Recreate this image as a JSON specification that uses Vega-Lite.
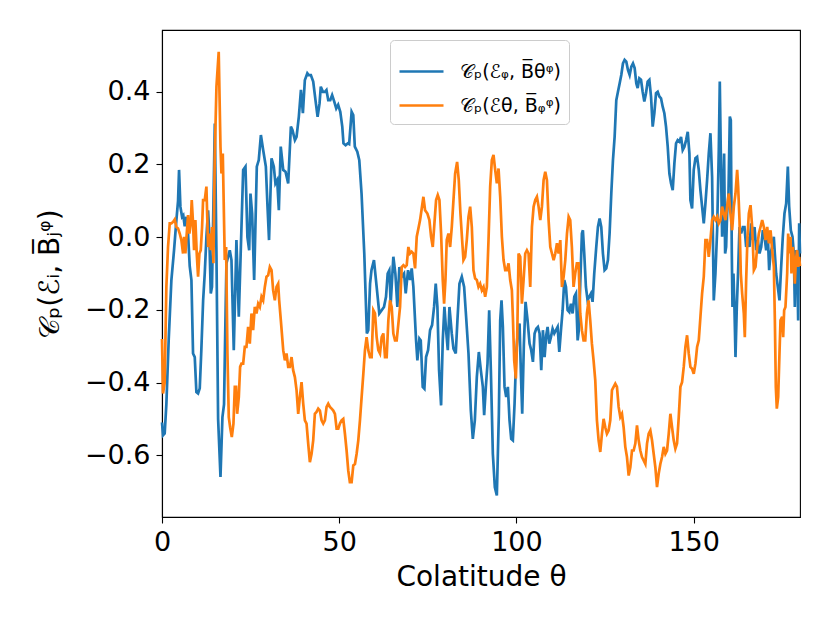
{
  "$schema": "https://vega.github.io/schema/vega-lite/v6.json",
  "width": 638,
  "height": 487,
  "autosize": {"type": "none"},
  "padding": {"left": 162, "top": 30, "right": 30, "bottom": 106},
  "background": "white",
  "datasets": {
    "blue": [
      {"t":0,"v":-0.51},{"t":0.29,"v":-0.545},{"t":0.76,"v":-0.54},{"t":1.23,"v":-0.46},{"t":1.9,"v":-0.28},{"t":2.65,"v":-0.118},{"t":3.4,"v":-0.036},{"t":4.06,"v":0.047},{"t":4.53,"v":0.1},{"t":4.81,"v":0.185},{"t":5.19,"v":0.084},{"t":5.66,"v":0.056},{"t":6.0,"v":0.06},{"t":6.41,"v":0.03},{"t":6.9,"v":0.056},{"t":7.35,"v":0.01},{"t":7.82,"v":-0.08},{"t":8.3,"v":-0.118},{"t":8.76,"v":-0.32},{"t":9.24,"v":-0.33},{"t":9.7,"v":-0.426},{"t":10.18,"v":-0.43},{"t":10.65,"v":-0.416},{"t":11.1,"v":-0.31},{"t":11.6,"v":-0.175},{"t":12.06,"v":-0.1},{"t":12.53,"v":0.0},{"t":13.0,"v":0.074},{"t":13.3,"v":0.019},{"t":13.76,"v":-0.155},{"t":14.1,"v":-0.137},{"t":14.4,"v":0.028},{"t":14.9,"v":0.313},{"t":15.36,"v":-0.045},{"t":15.83,"v":-0.5},{"t":16.5,"v":-0.66},{"t":17.05,"v":-0.495},{"t":17.5,"v":-0.46},{"t":17.8,"v":-0.284},{"t":18.18,"v":-0.072},{"t":19.12,"v":-0.036},{"t":19.6,"v":-0.063},{"t":20.25,"v":-0.311},{"t":21.0,"v":-0.008},{"t":21.67,"v":-0.219},{"t":22.9,"v":0.185},{"t":23.55,"v":0.194},{"t":24.1,"v":0.0},{"t":24.6,"v":-0.036},{"t":24.96,"v":0.12},{"t":25.43,"v":0.065},{"t":26.0,"v":-0.118},{"t":26.75,"v":0.194},{"t":27.3,"v":0.212},{"t":27.9,"v":0.281},{"t":28.54,"v":0.24},{"t":29.3,"v":0.194},{"t":29.77,"v":0.084},{"t":30.2,"v":-0.008},{"t":30.9,"v":0.217},{"t":31.55,"v":0.194},{"t":32.0,"v":0.148},{"t":32.5,"v":0.157},{"t":32.97,"v":0.074},{"t":33.5,"v":0.249},{"t":34.2,"v":0.185},{"t":34.85,"v":0.18},{"t":35.6,"v":0.148},{"t":36.36,"v":0.304},{"t":36.8,"v":0.295},{"t":37.5,"v":0.267},{"t":37.96,"v":0.276},{"t":38.6,"v":0.331},{"t":39.2,"v":0.405},{"t":39.75,"v":0.341},{"t":40.3,"v":0.432},{"t":41.0,"v":0.451},{"t":41.4,"v":0.446},{"t":42.0,"v":0.446},{"t":42.66,"v":0.428},{"t":43.3,"v":0.377},{"t":43.9,"v":0.331},{"t":44.45,"v":0.368},{"t":44.8,"v":0.414},{"t":45.4,"v":0.4},{"t":45.96,"v":0.4},{"t":46.4,"v":0.405},{"t":46.9,"v":0.377},{"t":47.47,"v":0.377},{"t":48.0,"v":0.391},{"t":48.6,"v":0.373},{"t":49.16,"v":0.354},{"t":49.7,"v":0.364},{"t":50.3,"v":0.345},{"t":50.86,"v":0.304},{"t":51.2,"v":0.258},{"t":51.8,"v":0.253},{"t":52.4,"v":0.258},{"t":52.8,"v":0.256},{"t":53.5,"v":0.345},{"t":53.96,"v":0.336},{"t":54.4,"v":0.249},{"t":55.1,"v":0.235},{"t":55.66,"v":0.212},{"t":56.3,"v":0.12},{"t":57.07,"v":-0.045},{"t":57.8,"v":-0.265},{"t":58.2,"v":-0.256},{"t":58.7,"v":-0.128},{"t":59.1,"v":-0.091},{"t":59.8,"v":-0.063},
      {"t":60.56,"v":-0.137},{"t":61.31,"v":-0.21},{"t":61.98,"v":-0.201},{"t":62.63,"v":-0.192},{"t":63.2,"v":-0.164},{"t":63.67,"v":-0.1},{"t":64.14,"v":-0.091},{"t":64.52,"v":-0.183},{"t":65.27,"v":-0.054},{"t":65.84,"v":-0.1},{"t":66.4,"v":-0.192},{"t":66.97,"v":-0.082},{"t":67.63,"v":-0.109},{"t":68.29,"v":-0.1},{"t":68.76,"v":-0.155},{"t":69.42,"v":-0.091},{"t":69.98,"v":-0.118},{"t":70.45,"v":-0.086},{"t":70.92,"v":-0.137},{"t":71.68,"v":-0.284},{"t":72.05,"v":-0.339},{"t":72.62,"v":-0.279},{"t":73.0,"v":-0.284},{"t":73.56,"v":-0.412},{"t":74.03,"v":-0.417},{"t":74.5,"v":-0.33},{"t":75.07,"v":-0.311},{"t":75.63,"v":-0.256},{"t":76.2,"v":-0.242},{"t":76.76,"v":-0.192},{"t":77.23,"v":-0.128},{"t":77.7,"v":-0.192},{"t":78.17,"v":-0.366},{"t":78.74,"v":-0.463},{"t":79.21,"v":-0.284},{"t":79.68,"v":-0.192},{"t":80.15,"v":-0.256},{"t":80.63,"v":-0.311},{"t":81.1,"v":-0.192},{"t":81.75,"v":-0.265},{"t":82.23,"v":-0.307},{"t":82.88,"v":-0.32},{"t":83.35,"v":-0.229},{"t":83.92,"v":-0.128},{"t":84.58,"v":-0.109},{"t":85.24,"v":-0.137},{"t":85.8,"v":-0.219},{"t":86.47,"v":-0.32},{"t":87.13,"v":-0.477},{"t":87.69,"v":-0.555},{"t":88.26,"v":-0.504},{"t":88.82,"v":-0.385},{"t":89.39,"v":-0.316},{"t":89.95,"v":-0.366},{"t":90.52,"v":-0.412},{"t":90.89,"v":-0.49},{"t":91.37,"v":-0.412},{"t":91.84,"v":-0.348},{"t":92.31,"v":-0.201},{"t":92.78,"v":-0.366},{"t":93.34,"v":-0.596},{"t":93.91,"v":-0.688},{"t":94.47,"v":-0.711},{"t":95.04,"v":-0.486},{"t":95.42,"v":-0.229},{"t":95.79,"v":-0.174},{"t":96.17,"v":-0.247},{"t":96.64,"v":-0.412},{"t":97.11,"v":-0.44},{"t":97.58,"v":-0.412},{"t":98.05,"v":-0.504},{"t":98.52,"v":-0.555},{"t":98.99,"v":-0.559},{"t":99.47,"v":-0.458},{"t":99.94,"v":-0.32},{"t":100.41,"v":-0.256},{"t":100.88,"v":-0.238},{"t":101.26,"v":-0.376},{"t":101.63,"v":-0.486},{"t":102.1,"v":-0.293},{"t":102.57,"v":-0.178},{"t":103.14,"v":-0.229},{"t":103.7,"v":-0.293},{"t":104.17,"v":-0.311},{"t":104.65,"v":-0.343},{"t":105.12,"v":-0.265},{"t":105.59,"v":-0.252},{"t":106.06,"v":-0.247},{"t":106.53,"v":-0.265},{"t":107.0,"v":-0.366},{"t":107.47,"v":-0.256},{"t":107.94,"v":-0.33},{"t":108.41,"v":-0.27},{"t":108.79,"v":-0.247},{"t":109.26,"v":-0.293},{"t":109.73,"v":-0.275},{"t":110.2,"v":-0.252},{"t":110.68,"v":-0.265},{"t":111.15,"v":-0.256},{"t":111.62,"v":-0.247},{"t":112.09,"v":-0.316},{"t":112.56,"v":-0.256},{"t":113.03,"v":-0.201},{"t":113.5,"v":-0.118},{"t":113.97,"v":-0.137},{"t":114.44,"v":-0.201},{"t":114.91,"v":-0.206},{"t":115.38,"v":-0.183},{"t":115.85,"v":-0.21},{"t":116.33,"v":-0.164},{"t":116.8,"v":-0.155},{"t":117.27,"v":-0.284},{"t":117.6,"v":-0.256},
      {"t":118.0,"v":-0.128},{"t":118.47,"v":0.01},{"t":118.75,"v":0.019},{"t":119.13,"v":-0.045},{"t":119.6,"v":-0.137},{"t":120.07,"v":-0.174},{"t":120.54,"v":-0.164},{"t":121.01,"v":-0.155},{"t":121.48,"v":-0.178},{"t":121.95,"v":-0.1},{"t":122.52,"v":-0.027},{"t":122.99,"v":0.028},{"t":123.46,"v":0.051},{"t":123.93,"v":0.028},{"t":124.4,"v":-0.045},{"t":124.87,"v":-0.091},{"t":125.34,"v":-0.086},{"t":125.81,"v":-0.063},{"t":126.28,"v":0.01},{"t":126.76,"v":0.12},{"t":127.23,"v":0.212},{"t":127.7,"v":0.276},{"t":128.17,"v":0.377},{"t":128.64,"v":0.4},{"t":129.11,"v":0.423},{"t":129.58,"v":0.446},{"t":130.05,"v":0.478},{"t":130.52,"v":0.488},{"t":130.99,"v":0.483},{"t":131.46,"v":0.46},{"t":131.94,"v":0.446},{"t":132.41,"v":0.469},{"t":132.88,"v":0.478},{"t":133.35,"v":0.465},{"t":133.82,"v":0.423},{"t":134.2,"v":0.41},{"t":134.67,"v":0.437},{"t":135.14,"v":0.433},{"t":135.61,"v":0.4},{"t":136.08,"v":0.373},{"t":136.55,"v":0.396},{"t":137.02,"v":0.428},{"t":137.5,"v":0.433},{"t":137.97,"v":0.387},{"t":138.44,"v":0.304},{"t":138.91,"v":0.341},{"t":139.38,"v":0.396},{"t":139.85,"v":0.4},{"t":140.32,"v":0.387},{"t":140.79,"v":0.382},{"t":141.26,"v":0.359},{"t":141.73,"v":0.341},{"t":142.2,"v":0.304},{"t":142.68,"v":0.249},{"t":143.15,"v":0.175},{"t":143.62,"v":0.148},{"t":144.09,"v":0.129},{"t":144.56,"v":0.203},{"t":145.03,"v":0.258},{"t":145.5,"v":0.267},{"t":145.97,"v":0.263},{"t":146.44,"v":0.276},{"t":146.91,"v":0.24},{"t":147.39,"v":0.249},{"t":147.86,"v":0.267},{"t":148.33,"v":0.29},{"t":148.8,"v":0.23},{"t":149.08,"v":0.102},{"t":149.55,"v":0.079},{"t":150.02,"v":0.185},{"t":150.5,"v":0.217},{"t":150.97,"v":0.221},{"t":151.44,"v":0.185},{"t":151.91,"v":0.129},{"t":152.38,"v":0.084},{"t":152.85,"v":0.038},{"t":153.32,"v":0.093},{"t":153.79,"v":0.157},{"t":154.26,"v":0.23},{"t":154.73,"v":0.286},{"t":155.2,"v":0.166},{"t":155.67,"v":-0.174},{"t":156.14,"v":-0.1},{"t":156.62,"v":0.019},{"t":157.09,"v":0.24},{"t":157.37,"v":0.428},{"t":157.75,"v":0.166},{"t":158.03,"v":0.001},{"t":158.31,"v":0.111},{"t":158.59,"v":0.23},{"t":158.88,"v":-0.045},{"t":159.16,"v":-0.027},{"t":159.44,"v":0.065},{"t":159.82,"v":0.12},{"t":160.2,"v":0.332},{"t":160.48,"v":0.322},{"t":160.76,"v":-0.045},{"t":160.95,"v":-0.192},{"t":161.23,"v":-0.1},{"t":161.5,"v":-0.192},{"t":161.8,"v":-0.33},{"t":162.17,"v":-0.192},{"t":162.55,"v":-0.091},{"t":162.93,"v":0.028},{"t":163.4,"v":0.01},{"t":163.87,"v":0.028},{"t":164.34,"v":0.028},{"t":164.81,"v":-0.027},{"t":165.28,"v":0.001},{"t":165.75,"v":-0.027},{"t":166.22,"v":0.038},{"t":166.7,"v":-0.008},{"t":167.17,"v":0.028},{"t":167.64,"v":-0.036},{"t":168.11,"v":-0.008},{"t":168.58,"v":-0.045},{"t":169.05,"v":-0.027},{"t":169.52,"v":0.019},{"t":169.99,"v":0.001},{"t":170.46,"v":-0.036},{"t":170.93,"v":0.001},{"t":171.3,"v":-0.091},{"t":171.67,"v":-0.045},{"t":172.14,"v":-0.027},{"t":172.61,"v":0.001},{"t":172.9,"v":-0.045},{"t":173.27,"v":-0.1},{"t":173.74,"v":-0.137},{"t":174.21,"v":-0.174},{"t":174.68,"v":-0.082},{"t":175.15,"v":0.001},{"t":175.62,"v":0.065},{"t":176.1,"v":0.093},{"t":176.57,"v":0.194},{"t":176.94,"v":0.084},{"t":177.41,"v":0.019},{"t":177.88,"v":0.001},{"t":178.26,"v":-0.045},{"t":178.54,"v":-0.192},{"t":178.83,"v":-0.036},{"t":179.2,"v":-0.045},{"t":179.48,"v":-0.229},{"t":179.77,"v":0.038},{"t":180,"v":-0.045}
    ],
    "orange": [
      {"t":0,"v":-0.28},{"t":0.29,"v":-0.43},{"t":0.76,"v":-0.4},{"t":1.23,"v":-0.137},{"t":1.7,"v":-0.027},{"t":2.18,"v":0.038},{"t":2.65,"v":0.038},{"t":3.12,"v":0.042},{"t":3.59,"v":0.049},{"t":4.06,"v":0.028},{"t":4.53,"v":0.024},{"t":5.0,"v":0.01},{"t":5.47,"v":-0.008},{"t":5.94,"v":-0.045},{"t":6.22,"v":0.001},{"t":6.6,"v":-0.045},{"t":6.98,"v":0.01},{"t":7.35,"v":0.061},{"t":7.73,"v":0.01},{"t":8.11,"v":0.038},{"t":8.39,"v":0.102},{"t":8.76,"v":0.038},{"t":9.05,"v":-0.036},{"t":9.42,"v":0.047},{"t":9.8,"v":-0.045},{"t":10.18,"v":-0.109},{"t":10.56,"v":-0.045},{"t":10.93,"v":-0.036},{"t":11.31,"v":0.028},{"t":11.59,"v":0.102},{"t":12.06,"v":0.102},{"t":12.53,"v":0.139},{"t":13.0,"v":-0.027},{"t":13.47,"v":0.01},{"t":13.76,"v":-0.036},{"t":14.13,"v":0.028},{"t":14.51,"v":-0.072},{"t":14.88,"v":0.221},{"t":15.36,"v":0.414},{"t":16.0,"v":0.51},{"t":16.5,"v":0.249},{"t":16.77,"v":0.175},{"t":17.15,"v":0.23},{"t":17.71,"v":-0.063},{"t":18.09,"v":-0.027},{"t":18.46,"v":-0.32},{"t":18.84,"v":-0.495},{"t":19.22,"v":-0.523},{"t":19.69,"v":-0.55},{"t":20.16,"v":-0.513},{"t":20.54,"v":-0.412},{"t":20.91,"v":-0.412},{"t":21.2,"v":-0.486},{"t":21.67,"v":-0.44},{"t":22.04,"v":-0.357},{"t":22.42,"v":-0.348},{"t":22.9,"v":-0.348},{"t":23.36,"v":-0.302},{"t":23.83,"v":-0.302},{"t":24.3,"v":-0.247},{"t":24.77,"v":-0.293},{"t":25.24,"v":-0.21},{"t":25.71,"v":-0.256},{"t":26.18,"v":-0.192},{"t":26.66,"v":-0.21},{"t":27.13,"v":-0.183},{"t":27.6,"v":-0.192},{"t":28.07,"v":-0.164},{"t":28.54,"v":-0.174},{"t":29.01,"v":-0.137},{"t":29.48,"v":-0.109},{"t":29.95,"v":-0.105},{"t":30.42,"v":-0.082},{"t":30.9,"v":-0.091},{"t":31.36,"v":-0.146},{"t":31.84,"v":-0.174},{"t":32.31,"v":-0.137},{"t":32.78,"v":-0.128},{"t":33.06,"v":-0.174},{"t":33.53,"v":-0.229},{"t":34.2,"v":-0.311},{"t":34.66,"v":-0.339},{"t":35.13,"v":-0.32},{"t":35.6,"v":-0.357},{"t":36.07,"v":-0.357},{"t":36.55,"v":-0.33},{"t":37.0,"v":-0.366},{"t":37.49,"v":-0.385},{"t":37.96,"v":-0.421},{"t":38.43,"v":-0.486},{"t":38.9,"v":-0.44},{"t":39.37,"v":-0.399},{"t":39.84,"v":-0.458},{"t":40.31,"v":-0.504},{"t":40.78,"v":-0.513},{"t":41.25,"v":-0.568},{"t":41.72,"v":-0.619},{"t":42.2,"v":-0.596},{"t":42.66,"v":-0.559},{"t":43.13,"v":-0.486},{"t":43.6,"v":-0.481},{"t":44.08,"v":-0.472},{"t":44.55,"v":-0.477},{"t":45.02,"v":-0.504},{"t":45.49,"v":-0.513},{"t":45.96,"v":-0.504},{"t":46.43,"v":-0.467},{"t":46.9,"v":-0.458},{"t":47.37,"v":-0.467},{"t":47.85,"v":-0.472},{"t":48.32,"v":-0.477},{"t":48.79,"v":-0.486},{"t":49.26,"v":-0.527},{"t":49.73,"v":-0.527},{"t":50.2,"v":-0.513},{"t":50.67,"v":-0.504},{"t":51.14,"v":-0.5},{"t":51.61,"v":-0.541},{"t":52.08,"v":-0.587},{"t":52.55,"v":-0.642},{"t":53.0,"v":-0.674},{"t":53.5,"v":-0.674},{"t":53.97,"v":-0.628},{"t":54.44,"v":-0.624},{"t":54.91,"v":-0.596},{"t":55.38,"v":-0.559},{"t":55.85,"v":-0.504},{"t":56.32,"v":-0.44},{"t":56.8,"v":-0.376},{"t":57.26,"v":-0.311},{"t":57.73,"v":-0.275},{"t":58.2,"v":-0.311},{"t":58.68,"v":-0.33},{"t":59.15,"v":-0.33},{"t":59.62,"v":-0.201},
      {"t":60.09,"v":-0.21},{"t":60.56,"v":-0.275},{"t":61.03,"v":-0.311},{"t":61.5,"v":-0.32},{"t":61.98,"v":-0.275},{"t":62.45,"v":-0.265},{"t":62.92,"v":-0.33},{"t":63.39,"v":-0.33},{"t":63.86,"v":-0.229},{"t":64.33,"v":-0.174},{"t":64.8,"v":-0.192},{"t":65.27,"v":-0.265},{"t":65.74,"v":-0.284},{"t":66.21,"v":-0.284},{"t":66.69,"v":-0.238},{"t":67.16,"v":-0.192},{"t":67.63,"v":-0.082},{"t":68.1,"v":-0.077},{"t":68.57,"v":-0.082},{"t":69.04,"v":-0.077},{"t":69.51,"v":-0.027},{"t":69.98,"v":-0.045},{"t":70.45,"v":-0.04},{"t":70.92,"v":-0.045},{"t":71.4,"v":-0.086},{"t":71.87,"v":0.001},{"t":72.34,"v":0.024},{"t":72.81,"v":0.047},{"t":73.28,"v":0.079},{"t":73.75,"v":0.111},{"t":74.22,"v":0.074},{"t":74.88,"v":0.065},{"t":75.44,"v":0.047},{"t":75.92,"v":0.001},{"t":76.39,"v":-0.027},{"t":76.86,"v":0.038},{"t":77.33,"v":0.102},{"t":77.8,"v":0.116},{"t":78.27,"v":0.102},{"t":78.74,"v":0.01},{"t":79.21,"v":-0.118},{"t":79.59,"v":-0.183},{"t":79.97,"v":-0.118},{"t":80.34,"v":-0.008},{"t":80.82,"v":0.01},{"t":81.29,"v":-0.027},{"t":81.76,"v":0.028},{"t":82.23,"v":0.102},{"t":82.7,"v":0.175},{"t":83.26,"v":0.207},{"t":83.73,"v":0.157},{"t":84.2,"v":0.065},{"t":84.68,"v":-0.008},{"t":85.05,"v":-0.063},{"t":85.52,"v":-0.054},{"t":85.99,"v":-0.008},{"t":86.47,"v":0.056},{"t":86.94,"v":0.084},{"t":87.41,"v":0.028},{"t":87.88,"v":-0.091},{"t":88.35,"v":-0.114},{"t":88.82,"v":-0.118},{"t":89.29,"v":-0.137},{"t":89.76,"v":-0.128},{"t":90.24,"v":-0.146},{"t":90.71,"v":-0.137},{"t":91.18,"v":-0.164},{"t":91.65,"v":-0.137},{"t":92.12,"v":-0.008},{"t":92.59,"v":0.139},{"t":93.06,"v":0.212},{"t":93.53,"v":0.226},{"t":94.0,"v":0.185},{"t":94.47,"v":0.148},{"t":94.95,"v":0.189},{"t":95.42,"v":0.111},{"t":95.89,"v":0.001},{"t":96.36,"v":-0.063},{"t":96.83,"v":-0.091},{"t":97.3,"v":-0.091},{"t":97.77,"v":-0.072},{"t":98.24,"v":-0.118},{"t":98.71,"v":-0.146},{"t":98.99,"v":-0.219},{"t":99.37,"v":-0.339},{"t":99.84,"v":-0.389},{"t":100.22,"v":-0.275},{"t":100.6,"v":-0.045},{"t":101.07,"v":-0.054},{"t":101.54,"v":-0.183},{"t":102.01,"v":-0.118},{"t":102.48,"v":-0.045},{"t":102.95,"v":-0.036},{"t":103.42,"v":-0.045},{"t":103.89,"v":-0.137},{"t":104.37,"v":0.028},{"t":104.84,"v":0.084},{"t":105.31,"v":0.102},{"t":105.78,"v":0.111},{"t":106.25,"v":0.084},{"t":106.72,"v":0.047},{"t":107.19,"v":0.084},{"t":107.66,"v":0.157},{"t":108.13,"v":0.18},{"t":108.6,"v":0.157},{"t":109.07,"v":0.047},{"t":109.55,"v":-0.027},{"t":110.02,"v":-0.045},{"t":110.49,"v":-0.063},{"t":110.96,"v":-0.045},{"t":111.43,"v":-0.017},{"t":111.9,"v":-0.045},{"t":112.37,"v":-0.008},{"t":112.84,"v":-0.137},{"t":113.31,"v":-0.109},{"t":113.78,"v":-0.063},{"t":114.26,"v":0.01},{"t":114.73,"v":0.056},
      {"t":115.17,"v":0.047},{"t":115.64,"v":-0.027},{"t":116.11,"v":-0.137},{"t":116.58,"v":-0.1},{"t":117.05,"v":-0.072},{"t":117.53,"v":-0.072},{"t":118.0,"v":-0.21},{"t":118.47,"v":-0.256},{"t":118.94,"v":-0.284},{"t":119.41,"v":-0.284},{"t":119.88,"v":-0.21},{"t":120.35,"v":-0.174},{"t":120.82,"v":-0.229},{"t":121.29,"v":-0.293},{"t":121.76,"v":-0.339},{"t":122.24,"v":-0.394},{"t":122.71,"v":-0.504},{"t":123.18,"v":-0.559},{"t":123.65,"v":-0.591},{"t":124.12,"v":-0.541},{"t":124.59,"v":-0.5},{"t":125.06,"v":-0.523},{"t":125.53,"v":-0.541},{"t":126.0,"v":-0.532},{"t":126.47,"v":-0.504},{"t":126.95,"v":-0.421},{"t":127.42,"v":-0.412},{"t":127.89,"v":-0.403},{"t":128.36,"v":-0.412},{"t":128.83,"v":-0.467},{"t":129.3,"v":-0.495},{"t":129.77,"v":-0.486},{"t":130.24,"v":-0.523},{"t":130.71,"v":-0.577},{"t":131.18,"v":-0.605},{"t":131.66,"v":-0.656},{"t":132.13,"v":-0.633},{"t":132.6,"v":-0.587},{"t":133.07,"v":-0.587},{"t":133.54,"v":-0.568},{"t":134.01,"v":-0.518},{"t":134.48,"v":-0.559},{"t":134.95,"v":-0.587},{"t":135.42,"v":-0.605},{"t":135.89,"v":-0.614},{"t":136.37,"v":-0.624},{"t":136.84,"v":-0.568},{"t":137.31,"v":-0.541},{"t":137.78,"v":-0.532},{"t":138.25,"v":-0.559},{"t":138.72,"v":-0.596},{"t":139.19,"v":-0.633},{"t":139.66,"v":-0.688},{"t":140.13,"v":-0.651},{"t":140.6,"v":-0.624},{"t":141.08,"v":-0.605},{"t":141.55,"v":-0.577},{"t":142.02,"v":-0.596},{"t":142.49,"v":-0.587},{"t":142.96,"v":-0.541},{"t":143.43,"v":-0.486},{"t":143.9,"v":-0.523},{"t":144.37,"v":-0.559},{"t":144.84,"v":-0.582},{"t":145.31,"v":-0.568},{"t":145.79,"v":-0.495},{"t":146.26,"v":-0.412},{"t":146.73,"v":-0.399},{"t":147.2,"v":-0.357},{"t":147.67,"v":-0.302},{"t":148.14,"v":-0.27},{"t":148.61,"v":-0.32},{"t":149.08,"v":-0.357},{"t":149.55,"v":-0.362},{"t":150.02,"v":-0.376},{"t":150.5,"v":-0.348},{"t":150.97,"v":-0.302},{"t":151.44,"v":-0.284},{"t":151.91,"v":-0.219},{"t":152.38,"v":-0.155},{"t":152.85,"v":-0.109},{"t":153.32,"v":-0.008},{"t":153.79,"v":-0.008},{"t":154.26,"v":-0.054},{"t":154.73,"v":-0.008},{"t":155.2,"v":0.047},{"t":155.67,"v":0.056},{"t":156.14,"v":0.047},{"t":156.62,"v":0.056},{"t":157.09,"v":0.038},{"t":157.56,"v":0.047},{"t":158.03,"v":0.084},{"t":158.5,"v":0.065},{"t":158.97,"v":0.047},{"t":159.44,"v":0.084},{"t":159.91,"v":0.12},{"t":160.38,"v":0.065},{"t":160.86,"v":0.019},{"t":161.33,"v":0.084},{"t":161.8,"v":0.12},{"t":162.27,"v":0.185},{"t":162.55,"v":0.139},{"t":162.93,"v":0.047},{"t":163.3,"v":-0.1},{"t":163.68,"v":-0.155},{"t":164.15,"v":-0.21},{"t":164.43,"v":-0.275},{"t":164.81,"v":-0.118},{"t":165.19,"v":0.001},{"t":165.57,"v":0.065},{"t":166.04,"v":0.088},{"t":166.51,"v":0.028},{"t":166.98,"v":-0.091},{"t":167.45,"v":-0.082},{"t":167.92,"v":-0.027},{"t":168.39,"v":0.01},{"t":168.86,"v":0.028},{"t":169.33,"v":0.047},{"t":169.8,"v":0.028},{"t":170.28,"v":-0.008},{"t":170.75,"v":0.028},{"t":171.22,"v":-0.017},{"t":171.69,"v":0.019},{"t":172.16,"v":-0.036},{"t":172.63,"v":-0.082},{"t":172.91,"v":-0.229},{"t":173.18,"v":-0.412},{"t":173.46,"v":-0.472},{"t":173.84,"v":-0.44},{"t":174.21,"v":-0.32},{"t":174.5,"v":-0.229},{"t":174.97,"v":-0.219},{"t":175.25,"v":-0.275},{"t":175.53,"v":-0.201},{"t":175.9,"v":-0.192},{"t":176.38,"v":-0.1},{"t":176.66,"v":0.01},{"t":176.94,"v":-0.045},{"t":177.32,"v":0.001},{"t":177.6,"v":-0.1},{"t":177.98,"v":-0.027},{"t":178.26,"v":-0.063},{"t":178.54,"v":-0.128},{"t":178.83,"v":-0.063},{"t":179.2,"v":-0.036},{"t":179.48,"v":-0.082},{"t":179.77,"v":-0.054},{"t":180,"v":-0.08}
    ]
  },
  "encoding": {
    "x": {
      "field": "t",
      "type": "quantitative",
      "scale": {"domain": [0, 180], "nice": false, "zero": false},
      "axis": {"values": [0, 50, 100, 150], "title": "Colatitude θ", "titlePadding": 8, "labelFlush": false}
    },
    "y": {
      "field": "v",
      "type": "quantitative",
      "scale": {"domain": [-0.77, 0.57], "nice": false, "zero": false},
      "axis": {"values": [-0.6, -0.4, -0.2, 0, 0.2, 0.4], "format": ".1f", "title": "𝒞ₚ(ℰᵢ, B̅ⱼᵠ)", "titlePadding": 20, "labelFlush": false}
    }
  },
  "layer": [
    {
      "data": {"name": "blue"},
      "mark": {"type": "line", "strokeWidth": 2.7},
      "encoding": {
        "color": {
          "datum": "b",
          "type": "nominal",
          "scale": {"domain": ["b", "o"], "range": ["#1f77b4", "#ff7f0e"]},
          "legend": {
            "title": null,
            "orient": "none",
            "legendX": 228,
            "legendY": 10,
            "labelExpr": "datum.label == 'b' ? '𝒞ₚ(ℰᵩ, B̅θᵠ)' : '𝒞ₚ(ℰθ, B̅ᵩᵠ)'"
          }
        }
      }
    },
    {
      "data": {"name": "orange"},
      "mark": {"type": "line", "strokeWidth": 2.7},
      "encoding": {"color": {"datum": "o", "type": "nominal"}}
    }
  ],
  "config": {
    "font": "DejaVu Sans",
    "view": {"stroke": "black", "strokeWidth": 1.1},
    "axis": {
      "grid": false,
      "domainColor": "black",
      "domainWidth": 1.1,
      "tickColor": "black",
      "tickWidth": 1.1,
      "tickSize": 6,
      "labelColor": "black",
      "labelFontSize": 27,
      "labelFont": "DejaVu Sans",
      "labelPadding": 6,
      "titleColor": "black",
      "titleFontSize": 28,
      "titleFont": "DejaVu Sans",
      "titleFontWeight": "normal"
    },
    "legend": {
      "labelFont": "DejaVu Sans",
      "labelFontSize": 19,
      "labelColor": "black",
      "labelOffset": 15,
      "symbolType": "stroke",
      "symbolSize": 1936,
      "symbolStrokeWidth": 2.7,
      "strokeColor": "#cccccc",
      "fillColor": "white",
      "cornerRadius": 4,
      "padding": 8,
      "rowPadding": 0
    }
  }
}
